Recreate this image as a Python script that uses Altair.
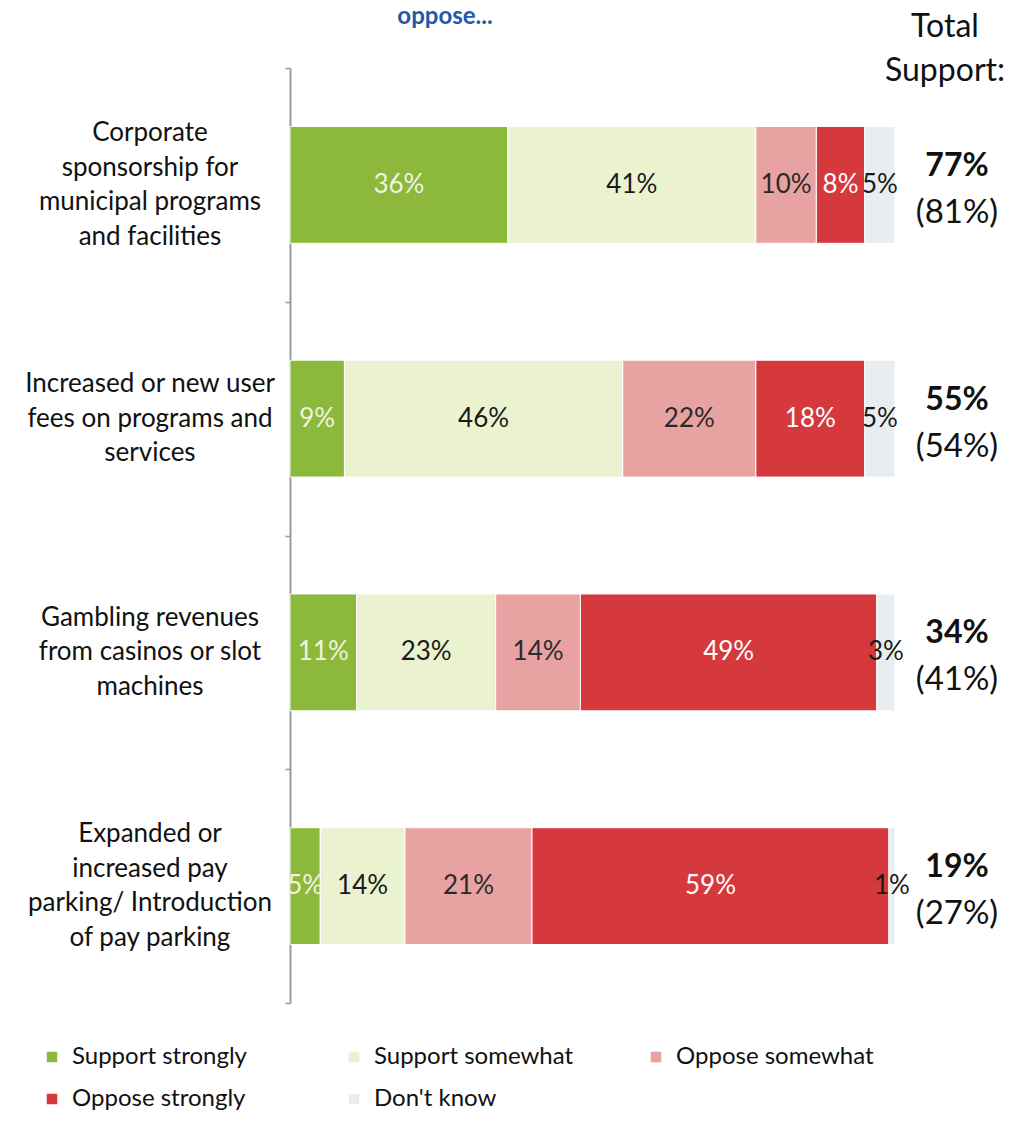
import altair as alt
import pandas as pd

categories = [
    "Corporate\nsponsorship for\nmunicipal programs\nand facilities",
    "Increased or new user\nfees on programs and\nservices",
    "Gambling revenues\nfrom casinos or slot\nmachines",
    "Expanded or\nincreased pay\nparking/ Introduction\nof pay parking",
]
responses = ["Support strongly", "Support somewhat", "Oppose somewhat", "Oppose strongly", "Don't know"]
support_strongly = [36, 9, 11, 5]
support_somewhat = [41, 46, 23, 14]
oppose_somewhat = [10, 22, 14, 21]
oppose_strongly = [8, 18, 49, 59]
dont_know = [5, 5, 3, 1]
total_support = ["77%", "55%", "34%", "19%"]
previous_support = ["(81%)", "(54%)", "(41%)", "(27%)"]

bar_colors = ["#8cb83c", "#eaf2cf", "#e9a2a2", "#d5383d", "#e8edf1"]
text_colors = ["#eef4e0", "#1a1a1a", "#2a2a2a", "#ffffff", "#1a1a1a"]
FONT = "Lato"
LINE_H = 34.5

series = [support_strongly, support_somewhat, oppose_somewhat, oppose_strongly, dont_know]
rows = []
for i, cat in enumerate(categories):
    acc = 0
    for r, vals in zip(responses, series):
        v = vals[i]
        rows.append({"cat": cat, "resp": r, "start": acc, "end": acc + v,
                     "mid": acc + v / 2, "label": f"{v}%", "order": responses.index(r)})
        acc += v
df = pd.DataFrame(rows)
tot = pd.DataFrame({"cat": categories, "total": total_support, "prev": previous_support,
                    "nlines": [c.count("\n") + 1 for c in categories]})

ysort = categories
yscale = alt.Scale(paddingInner=0, paddingOuter=0)
yenc = alt.Y("cat:N", sort=ysort, title=None, scale=yscale,
             axis=alt.Axis(labels=False, domainColor="#9a9a9a", domainWidth=2,
                           tickColor="#9a9a9a", tickSize=5, tickBand="extent", tickWidth=1.5))
xscale = alt.Scale(domain=[0, 100], nice=False, zero=True)

bars = alt.Chart(df).mark_bar(stroke="white", strokeWidth=1,
                              height=alt.RelativeBandSize(0.5)).encode(
    y=yenc,
    x=alt.X("start:Q", scale=xscale, axis=None),
    x2="end:Q",
    color=alt.Color("resp:N", scale=alt.Scale(domain=responses, range=bar_colors),
                    legend=alt.Legend(orient="none", legendX=-250, legendY=977, columns=3,
                                      direction="horizontal",
                                      gridAlign="all", columnPadding=70, rowPadding=18,
                                      symbolType="square", symbolSize=110, symbolStrokeWidth=0,
                                      labelFontSize=24, labelFont=FONT, labelColor="#111111",
                                      labelOffset=8, title=None, labelLimit=400)),
    order="order:Q",
)

seg_text = alt.Chart(df).mark_text(fontSize=26, font=FONT, baseline="middle", align="center").encode(
    y=alt.Y("cat:N", sort=ysort),
    x=alt.X("mid:Q", scale=xscale),
    text="label:N",
    color=alt.Color("resp:N", scale=alt.Scale(domain=responses, range=text_colors), legend=None),
)

cat_layers = []
for n in sorted(set(tot["nlines"])):
    cat_layers.append(
        alt.Chart(tot).transform_filter(alt.datum.nlines == n).mark_text(
            fontSize=26, font=FONT, lineBreak="\n", lineHeight=LINE_H, align="center",
            baseline="middle", dy=-(n - 1) * LINE_H / 2, color="#111111").encode(
            y=alt.Y("cat:N", sort=ysort), x=alt.value(-140), text="cat:N")
    )

tot_text = alt.Chart(tot).mark_text(fontSize=32, font=FONT, fontWeight="bold", align="center",
                                    baseline="middle", dy=-19, color="#111111").encode(
    y=alt.Y("cat:N", sort=ysort), x=alt.value(667), text="total:N")
prev_text = alt.Chart(tot).mark_text(fontSize=33, font=FONT, align="center",
                                     baseline="middle", dy=28, color="#111111").encode(
    y=alt.Y("cat:N", sort=ysort), x=alt.value(667), text="prev:N")

header = alt.Chart(pd.DataFrame({"t": ["Total\nSupport:"]})).mark_text(
    fontSize=32, font=FONT, lineBreak="\n", lineHeight=44, align="center", baseline="middle",
    color="#111111").encode(x=alt.value(655), y=alt.value(-41), text="t:N")

title = alt.Chart(pd.DataFrame({"t": ["oppose..."]})).mark_text(
    fontSize=24, font=FONT, fontWeight="bold", align="center", baseline="alphabetic",
    color="#1f5aa8").encode(x=alt.value(155), y=alt.value(-44), text="t:N")

chart = alt.layer(bars, seg_text, *cat_layers, tot_text, prev_text, header, title).resolve_scale(
    color="independent"
).properties(
    width=605, height=935,
    background="white",
    autosize=alt.AutoSizeParams(type="none"),
    padding={"left": 282, "top": 60, "right": 118, "bottom": 109},
).configure_view(stroke=None, strokeWidth=0)

chart.save("out.html", embed_options={"renderer": "svg", "actions": False})
